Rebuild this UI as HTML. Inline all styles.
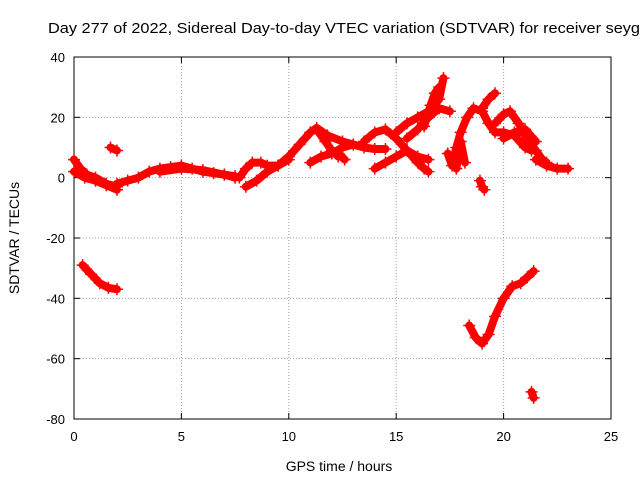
<!DOCTYPE html>
<html><head><meta charset="utf-8"><style>
body{margin:0;background:#fff;}
svg{display:block;font-family:"Liberation Sans",sans-serif;}
</style></head><body>
<svg id="chart" width="640" height="480">
<rect width="640" height="480" fill="#fff"/>
<text x="48" y="33" font-size="15" textLength="592" lengthAdjust="spacingAndGlyphs" fill="#000">Day 277 of 2022, Sidereal Day-to-day VTEC variation (SDTVAR) for receiver seyg</text>
<g id="grid"></g>
<g id="axes"></g>
<g id="series"></g>
<text x="339" y="471" font-size="14" text-anchor="middle">GPS time / hours</text>
<text transform="translate(19,238) rotate(-90)" font-size="14" text-anchor="middle">SDTVAR / TECUs</text>
</svg>
<script>
const xTicks=[0,5,10,15,20,25];
const yTicks=[40,20,0,-20,-40,-60,-80];
const tracks=[
[[0,6],[0.3,3],[0.6,1],[1,0],[1.5,-2],[2,-3]],
[[0,2],[0.5,0],[1,-1],[1.5,-2.5],[2,-4]],
[[1.7,10],[2,9]],
[[0.4,-29],[0.8,-32],[1.2,-35],[1.6,-36.5],[2,-37]],
[[2,-2],[2.5,-1],[3,0],[3.5,2],[4,3],[4.5,3.5],[5,4],[5.5,3],[6,2],[6.5,1.5],[7,1],[7.5,0]],
[[4,2],[5,3],[6,2.5],[7,1],[7.5,0.5]],
[[7.7,0],[8,3],[8.3,5],[8.7,5],[9,4],[9.5,4],[10,7],[10.5,11],[11,15],[11.3,16.5],[11.8,14],[12.5,12],[13,11]],
[[8,-3],[8.5,-1],[9,2],[9.5,4],[10,6]],
[[11,5],[11.5,7],[12,8],[12.5,10],[13,11],[13.5,10],[14,9.5],[14.5,9.5]],
[[11.3,16],[11.7,12],[12,9],[12.3,7]],
[[12.6,6],[12.3,8]],
[[14,3],[14.5,5],[15,7],[15.5,9],[16,5],[16.3,3],[16.5,2]],
[[13.5,12],[14,15],[14.5,16],[15,13],[15.5,9],[16,7],[16.5,6]],
[[15,15],[15.5,18],[16,20],[16.5,22],[17,26],[17.2,33]],
[[15.5,13],[16,16],[16.5,20],[17,23],[17.5,22]],
[[16.3,17],[16.6,24],[16.8,28],[17,30]],
[[17.4,8],[17.6,4],[17.8,10],[18,15],[18.3,20],[18.6,23],[19,22],[19.3,18],[19.6,15],[20,15],[20.5,14],[21,10],[21.3,9]],
[[17.8,3],[18,12],[18.2,5]],
[[19,23],[19.3,26],[19.6,28]],
[[19.6,18],[20,21],[20.3,22],[20.7,18],[21,14],[21.5,9],[21.8,6],[22,5]],
[[20,13],[20.5,15],[21,16],[21.5,12]],
[[21.5,6],[22,4],[22.5,3],[23,3]],
[[18.9,-1],[19,-3],[19.1,-4]],
[[18.4,-49],[18.7,-53],[19,-55],[19.3,-52],[19.6,-46],[20,-40],[20.4,-36],[20.8,-35],[21.1,-33],[21.4,-31]],
[[21.3,-71],[21.4,-73]]
];
const L=74,R=611,T=57,B=419;
const xs=v=>L+(v-0)/(25-0)*(R-L);
const ys=v=>T+(40-v)/(40+80)*(B-T);
const NS='http://www.w3.org/2000/svg';
const grid=document.getElementById('grid'),axes=document.getElementById('axes'),ser=document.getElementById('series');
function mk(tag,at,parent){const e=document.createElementNS(NS,tag);for(const k in at)e.setAttribute(k,at[k]);parent.appendChild(e);return e;}
xTicks.forEach(t=>{const x=xs(t);
 if(t>0&&t<25){const g=mk('line',{x1:x,y1:T,x2:x,y2:B,stroke:'#a0a0a0','stroke-dasharray':'1,2','stroke-width':1},grid);
 
 }
 mk('line',{x1:x,y1:B,x2:x,y2:B-6,stroke:'#000'},axes);mk('line',{x1:x,y1:T,x2:x,y2:T+6,stroke:'#000'},axes);
 const tx=mk('text',{x:x,y:B+22,'font-size':13,'text-anchor':'middle'},axes);tx.textContent=t;
 
 
});
yTicks.forEach(t=>{const y=ys(t);
 if(t<40&&t>-80){const g=mk('line',{x1:L,y1:y,x2:R,y2:y,stroke:'#a0a0a0','stroke-dasharray':'1,2','stroke-width':1},grid);
 
 }
 mk('line',{x1:L,y1:y,x2:L+6,y2:y,stroke:'#000'},axes);mk('line',{x1:R,y1:y,x2:R-6,y2:y,stroke:'#000'},axes);
 const tx=mk('text',{x:L-9,y:y+5,'font-size':13,'text-anchor':'end'},axes);tx.textContent=t;
 
 
});
mk('rect',{x:L,y:T,width:R-L,height:B-T,fill:'none',stroke:'#000'},axes);
tracks.forEach(tr=>{
 const p=mk('polyline',{points:tr.map(d=>xs(d[0])+','+ys(d[1])).join(' '),fill:'none',stroke:'#f00','stroke-width':8,'stroke-linejoin':'round','stroke-linecap':'round'},ser);
 
 
 tr.forEach(d=>{const x=xs(d[0]),y=ys(d[1]);
  const m=mk('path',{d:`M${x-6},${y}h12M${x},${y-6}v12`,stroke:'#f00','stroke-width':1.5},ser);
  
  
 });
});
</script>
</body></html>
